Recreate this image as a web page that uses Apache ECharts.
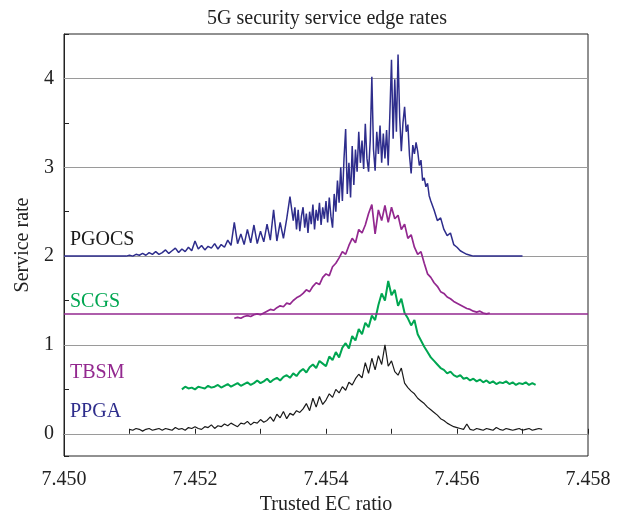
<!DOCTYPE html>
<html>
<head>
<meta charset="utf-8">
<script src="https://cdn.jsdelivr.net/npm/echarts@6/dist/echarts.min.js"></script>
<style>
  html, body { margin: 0; padding: 0; background: #fff; }
  #main { width: 624px; height: 520px; }
</style>
</head>
<body>
<div id="main"></div>
<script>
// x sampling of each trace (start value, step)
var ppgaStart = 7.4510, ppgaStep = 0.00005;
var tbsmStart = 7.4518, tbsmStep = 0.00005;
var scgsStart = 7.4526, scgsStep = 0.00005;
var pgocsLeadStart = 7.4500, pgocsLeadStep = 0.00005;
var pgocsPeakStart = 7.4535, pgocsPeakStep = 0.000025;
var pgocsTailStart = 7.45565, pgocsTailStep = 0.00005;

// PPGA (black)
var ppgaRates = [
  0.05, 0.04, 0.06, 0.05, 0.03, 0.05, 0.06, 0.04, 0.05, 0.06,
  0.04, 0.06, 0.05, 0.04, 0.07, 0.05, 0.06, 0.04, 0.07, 0.06,
  0.08, 0.06, 0.05, 0.08, 0.07, 0.10, 0.06, 0.09, 0.08, 0.11,
  0.09, 0.12, 0.10, 0.08, 0.12, 0.11, 0.14, 0.10, 0.13, 0.12,
  0.16, 0.13, 0.15, 0.19, 0.14, 0.22, 0.18, 0.25, 0.17, 0.23,
  0.21, 0.26, 0.24, 0.28, 0.34, 0.26, 0.40, 0.30, 0.42, 0.33,
  0.38, 0.45, 0.41, 0.50, 0.46, 0.53, 0.49, 0.58, 0.55, 0.62,
  0.67, 0.63, 0.80, 0.68, 0.85, 0.72, 0.88, 0.78, 1.00, 0.76,
  0.82, 0.70, 0.66, 0.74, 0.57, 0.52, 0.48, 0.45, 0.40, 0.37,
  0.34, 0.30, 0.27, 0.24, 0.21, 0.17, 0.15, 0.12, 0.10, 0.08,
  0.07, 0.06, 0.05, 0.11, 0.05, 0.04, 0.06, 0.05, 0.04, 0.06,
  0.05, 0.04, 0.07, 0.05, 0.04, 0.06, 0.05, 0.04, 0.05, 0.06,
  0.04, 0.05, 0.06, 0.04, 0.05, 0.06, 0.05
];

// TBSM (green)
var tbsmRates = [
  0.50, 0.53, 0.51, 0.52, 0.50, 0.53, 0.52, 0.51, 0.54, 0.52,
  0.53, 0.55, 0.52, 0.54, 0.56, 0.53, 0.55, 0.57, 0.54, 0.56,
  0.58, 0.55, 0.57, 0.60, 0.57, 0.59, 0.62, 0.58, 0.61, 0.63,
  0.60, 0.64, 0.66, 0.63, 0.68, 0.65, 0.70, 0.73, 0.69, 0.75,
  0.78, 0.74, 0.82, 0.79, 0.76, 0.87, 0.83, 0.92, 0.86, 0.97,
  1.02, 0.96, 1.10, 1.05, 1.18, 1.12, 1.25, 1.20, 1.33, 1.28,
  1.45, 1.58, 1.50, 1.72, 1.56, 1.62, 1.44, 1.52, 1.36, 1.30,
  1.22, 1.28, 1.12, 1.05, 0.98, 0.92, 0.86, 0.82, 0.78, 0.74,
  0.72, 0.68, 0.70, 0.66, 0.64, 0.66, 0.62, 0.63, 0.60, 0.62,
  0.59, 0.61, 0.58, 0.60, 0.57, 0.59, 0.56, 0.58, 0.57, 0.59,
  0.56, 0.58, 0.55, 0.57, 0.56, 0.58, 0.55, 0.57, 0.55
];

// SCGS (purple) and its reference level
var scgsRates = [
  1.30, 1.31, 1.30, 1.32, 1.33, 1.32, 1.34, 1.35, 1.34, 1.36,
  1.38, 1.40, 1.39, 1.42, 1.44, 1.43, 1.47, 1.46, 1.50, 1.53,
  1.55, 1.58, 1.62, 1.60, 1.66, 1.70, 1.68, 1.76, 1.80, 1.78,
  1.88, 1.92, 1.98, 2.05, 2.02, 2.12, 2.20, 2.15, 2.30, 2.26,
  2.35, 2.48, 2.58, 2.25, 2.52, 2.40, 2.57, 2.38, 2.55, 2.42,
  2.46, 2.30, 2.36, 2.20, 2.24, 2.10, 2.02, 2.05, 1.92, 1.80,
  1.76, 1.70, 1.66, 1.60, 1.58, 1.54, 1.52, 1.49, 1.47, 1.45,
  1.43, 1.41, 1.40, 1.38, 1.37, 1.38, 1.36, 1.35, 1.36
];
var scgsLevel = 1.35;

// PGOCS (navy): lead-in, dense peak, tail
var pgocsLeadRates = [
  2.00, 2.00, 2.00, 2.00, 2.00, 2.00, 2.00, 2.00, 2.00, 2.00,
  2.00, 2.00, 2.00, 2.00, 2.00, 2.00, 2.00, 2.00, 2.00, 2.00,
  2.01, 2.00, 2.02, 2.01, 2.03, 2.01, 2.04, 2.02, 2.05, 2.02,
  2.04, 2.07, 2.03, 2.06, 2.09, 2.04, 2.08, 2.05, 2.10, 2.06,
  2.17, 2.08, 2.12, 2.07, 2.11, 2.09, 2.14, 2.08, 2.13, 2.10,
  2.18, 2.12, 2.38, 2.14, 2.25, 2.13, 2.30, 2.15, 2.35, 2.14,
  2.28, 2.16, 2.36, 2.18, 2.52, 2.17, 2.38, 2.20, 2.42, 2.67
];
var pgocsPeakRates = [
  2.40, 2.55, 2.30, 2.52, 2.28, 2.45, 2.55, 2.32, 2.48, 2.26,
  2.50, 2.36, 2.58, 2.30, 2.52, 2.40, 2.60, 2.35, 2.55, 2.42,
  2.62, 2.38, 2.66, 2.45, 2.32, 2.70, 2.50, 2.85, 2.60, 3.00,
  2.62, 3.10, 3.43, 2.70, 3.05, 2.66, 3.24, 2.80, 3.20, 2.95,
  3.40, 3.05, 3.30, 2.98, 3.49, 3.10, 2.95, 3.30, 4.02, 3.20,
  2.96, 3.40, 3.15, 3.47, 3.05, 3.38, 3.10, 3.42, 3.02, 3.60,
  4.21, 3.32, 3.99, 3.40, 4.27, 3.56, 3.18, 3.50, 3.68, 3.40,
  3.48, 3.13, 2.93, 3.25, 3.15, 3.28, 3.18, 3.02, 3.08, 2.85,
  2.88, 2.78, 2.82, 2.68, 2.62
];
var pgocsTailRates = [
  2.52, 2.40, 2.43, 2.30, 2.23, 2.26, 2.13, 2.10, 2.06, 2.04,
  2.02, 2.01, 2.00, 2.00, 2.00, 2.00, 2.00, 2.00, 2.00, 2.00,
  2.00, 2.00, 2.00, 2.00, 2.00, 2.00, 2.00, 2.00
];

var gridLevels = [0, 1, 2, 3, 4];
var labelNames = ["PGOCS", "SCGS", "TBSM", "PPGA"];

function toPoints(start, step, arr) {
  return arr.map(function (v, i) {
    return [+(start + i * step).toFixed(6), v];
  });
}

var FONT = '"Liberation Serif", "DejaVu Serif", serif';
var NAVY = "#2e2d8c";
var PURPLE = "#93288f";
var GREEN = "#00a651";
var BLACK = "#1a1a1a";

var chart = echarts.init(document.getElementById("main"));

var lineBase = {
  type: "line",
  showSymbol: false,
  symbol: "none",
  animation: false,
  silent: true
};

var pgocsData = toPoints(pgocsLeadStart, pgocsLeadStep, pgocsLeadRates)
  .concat(toPoints(pgocsPeakStart, pgocsPeakStep, pgocsPeakRates))
  .concat(toPoints(pgocsTailStart, pgocsTailStep, pgocsTailRates));

var option = {
  animation: false,
  backgroundColor: "#fff",
  title: {
    text: "5G security service edge rates",
    left: 322,
    top: 4,
    textAlign: "center",
    textStyle: { fontFamily: FONT, fontSize: 20, fontWeight: "normal", color: "#222" }
  },
  grid: {
    left: 64,
    right: 36,
    top: 34,
    bottom: 59,
    show: true,
    borderColor: "#222",
    borderWidth: 1
  },
  xAxis: {
    type: "value",
    min: 7.450,
    max: 7.458,
    interval: 0.001,
    name: "Trusted EC ratio",
    nameLocation: "middle",
    nameGap: 39,
    nameTextStyle: { fontFamily: FONT, fontSize: 20, color: "#222" },
    axisLine: { show: true, lineStyle: { color: "#222", width: 1 } },
    axisTick: { show: true, inside: true, length: 5, lineStyle: { color: "#222" } },
    axisLabel: {
      margin: 14,
      fontFamily: FONT,
      fontSize: 20,
      color: "#222",
      formatter: function (v) {
        var k = Math.round(v * 1000);
        return k % 2 === 0 ? (k / 1000).toFixed(3) : "";
      }
    },
    splitLine: { show: false }
  },
  yAxis: {
    type: "value",
    min: -0.25,
    max: 4.5,
    splitNumber: 10,
    name: "Service rate",
    nameLocation: "middle",
    nameGap: 28,
    nameTextStyle: { fontFamily: FONT, fontSize: 20, color: "#222" },
    axisLine: { show: true, lineStyle: { color: "#222", width: 1 } },
    axisTick: { show: true, inside: true, length: 5, lineStyle: { color: "#222" } },
    axisLabel: {
      margin: 10,
      fontFamily: FONT,
      fontSize: 20,
      color: "#222",
      formatter: function (v) {
        return Math.abs(v - Math.round(v)) < 1e-6 ? String(Math.round(v)) : "";
      }
    },
    splitLine: { show: false }
  },
  graphic: [
    { type: "text", style: { x: 70, y: 240, text: labelNames[0], font: "20px " + FONT, fill: BLACK, verticalAlign: "middle" } },
    { type: "text", style: { x: 70, y: 302, text: labelNames[1], font: "20px " + FONT, fill: GREEN, verticalAlign: "middle" } },
    { type: "text", style: { x: 70, y: 373, text: labelNames[2], font: "20px " + FONT, fill: PURPLE, verticalAlign: "middle" } },
    { type: "text", style: { x: 70, y: 412, text: labelNames[3], font: "20px " + FONT, fill: NAVY, verticalAlign: "middle" } }
  ],
  series: [
    Object.assign({}, lineBase, {
      name: "grid",
      data: [],
      z: 1,
      markLine: {
        silent: true,
        z: 1,
        symbol: ["none", "none"],
        label: { show: false },
        lineStyle: { color: "#9a9a9a", width: 1, type: "solid" },
        emphasis: { disabled: true },
        data: gridLevels.map(function (v) { return { yAxis: v }; })
      }
    }),
    Object.assign({}, lineBase, {
      name: "PGOCS",
      z: 3,
      data: pgocsData,
      lineStyle: { color: NAVY, width: 1.5 }
    }),
    Object.assign({}, lineBase, {
      name: "SCGS",
      z: 3,
      data: toPoints(scgsStart, scgsStep, scgsRates),
      lineStyle: { color: PURPLE, width: 1.7 },
      markLine: {
        silent: true,
        symbol: ["none", "none"],
        label: { show: false },
        lineStyle: { color: PURPLE, width: 1.5, type: "solid" },
        emphasis: { disabled: true },
        data: [{ yAxis: scgsLevel }]
      }
    }),
    Object.assign({}, lineBase, {
      name: "TBSM",
      z: 3,
      data: toPoints(tbsmStart, tbsmStep, tbsmRates),
      lineStyle: { color: GREEN, width: 2 }
    }),
    Object.assign({}, lineBase, {
      name: "PPGA",
      z: 3,
      data: toPoints(ppgaStart, ppgaStep, ppgaRates),
      lineStyle: { color: BLACK, width: 1.2 }
    })
  ]
};

chart.setOption(option);
</script>
</body>
</html>
